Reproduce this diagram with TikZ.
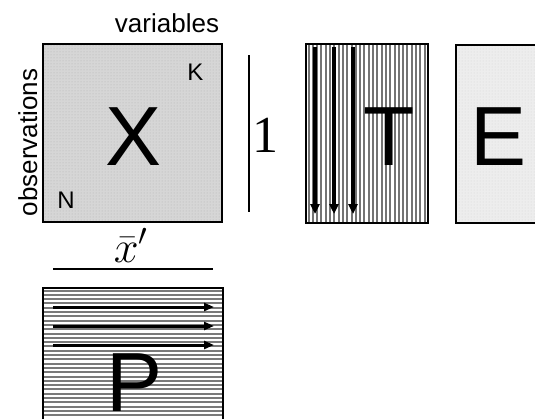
\documentclass[tikz,border=0pt]{standalone}
\usepackage{fontspec}
\newfontfamily\sansf{Liberation Sans}
\newfontfamily\seriff{Liberation Serif}
\usetikzlibrary{arrows.meta,patterns}
\begin{document}
\begin{tikzpicture}[x=1pt,y=-1pt,
  boxline/.style={line width=1.8pt},
  bigletter/.style={font=\sansf\fontsize{84}{84}\selectfont, inner sep=0pt, anchor=base},
  lbl/.style={font=\sansf\fontsize{26}{26}\selectfont, inner sep=0pt, anchor=base},
  smalllbl/.style={font=\sansf\fontsize{24}{24}\selectfont, inner sep=0pt, anchor=base},
  vstripe/.style={line width=2pt, draw=black!55},
  hstripe/.style={line width=2pt, draw=black!52},
  bigarrow/.style={line width=3.6pt, -{Triangle[length=10pt,width=9pt]}},
  harrow/.style={line width=3pt, -{Triangle[length=10pt,width=8pt]}},
  rule/.style={line width=2.6pt}
]
\clip (0,0) rectangle (535,418);
\fill[white] (0,0) rectangle (535,418);

% X box
\fill[black!16] (43,44) rectangle (222,222);
\fill[pattern=dots, pattern color=black!30] (43,44) rectangle (222,222);
\draw[boxline] (43,44) rectangle (222,222);
\node[bigletter] (X) at (133.5,165) {X};
\node[smalllbl] (K) at (195.5,80) {K};
\node[smalllbl] (N) at (66,208) {N};
\node[lbl] (var) at (167,32) {variables};
\node[lbl, rotate=90] (obs) at (37,142.5) {observations};

% separator and 1
\coordinate (sepTop) at (249,55);
\coordinate (sepBot) at (249,212);
\draw[rule] (sepTop) -- (sepBot);
\node[font=\seriff\fontsize{52}{52}\selectfont, inner sep=0pt, anchor=base] (one) at (265,152) {1};

% T box
\fill[white] (306,44) rectangle (428,223);
\foreach \xx in {308.5,312.8,...,427} \draw[vstripe] (\xx,44) -- (\xx,223);
\draw[boxline] (306,44) rectangle (428,223);
\node[bigletter] (T) at (389.5,165) {T};
\foreach \i/\xx in {1/315,2/334,3/353} {
  \coordinate (ts\i) at (\xx,47);
  \coordinate (te\i) at (\xx,214);
  \draw[bigarrow] (ts\i) -- (te\i);
}

% E box
\fill[black!7] (456,45) rectangle (545,223);
\fill[pattern=dots, pattern color=black!16] (456,45) rectangle (545,223);
\draw[boxline] (456,45) rectangle (545,223);
\node[bigletter] (E) at (498.5,165) {E};

% xbar and rule
\node[font=\fontsize{20.74}{22}\selectfont, inner sep=0pt, anchor=base] (xbar) at (131,262) {\scalebox{2.15}{$\bar{x}'$}};
\coordinate (ruleL) at (53,269);
\coordinate (ruleR) at (213,269);
\draw[rule] (ruleL) -- (ruleR);

% P box
\fill[white] (43,288) rectangle (223,425);
\foreach \yy in {290.5,294.8,...,425} \draw[hstripe] (43,\yy) -- (223,\yy);
\draw[boxline] (43,288) rectangle (223,425);
\node[bigletter] (P) at (134.5,411) {P};
\foreach \i/\yy in {1/307,2/326,3/345} {
  \coordinate (ps\i) at (53,\yy);
  \coordinate (pe\i) at (214,\yy);
  \draw[harrow] (ps\i) -- (pe\i);
}
\end{tikzpicture}
\end{document}
